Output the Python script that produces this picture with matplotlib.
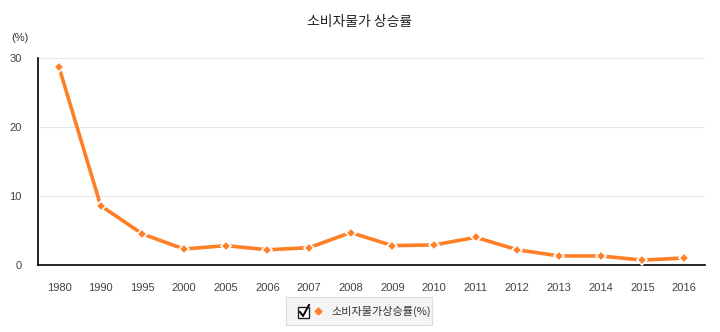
import matplotlib.pyplot as plt
from matplotlib.patches import Rectangle
from matplotlib.lines import Line2D

plt.rcParams['font.family'] = ['Noto Sans CJK KR', 'DejaVu Sans']

# 연도별 소비자물가 상승률 (%)
years = ['1980', '1990', '1995', '2000', '2005', '2006', '2007', '2008',
         '2009', '2010', '2011', '2012', '2013', '2014', '2015', '2016']
cpi = [28.7, 8.6, 4.5, 2.3, 2.8, 2.2, 2.5, 4.7,
       2.8, 2.9, 4.0, 2.2, 1.3, 1.3, 0.7, 1.0]
y_ticks = [0, 10, 20, 30]

ORANGE = '#ff7f27'

fig = plt.figure(figsize=(7.2, 3.32), dpi=100)
ax = fig.add_axes([0.053, 0.202, 0.926, 0.623])

x = list(range(len(years)))
ax.plot(x, cpi, color=ORANGE, linewidth=2.6, marker='D', markersize=5.5,
        markerfacecolor=ORANGE, markeredgecolor='white', markeredgewidth=1.2,
        solid_joinstyle='round', zorder=3)

ax.set_xlim(-0.5, len(years) - 0.5)
ax.set_ylim(0, 30)
ax.set_xticks(x)
ax.set_xticklabels(years)
ax.set_yticks(y_ticks)
ax.tick_params(axis='both', length=0, labelsize=8, colors='#444444')
ax.tick_params(axis='x', pad=13)
ax.tick_params(axis='y', pad=12)
for lbl in ax.get_xticklabels() + ax.get_yticklabels():
    lbl.set_family(['Liberation Sans', 'DejaVu Sans'])
ax.yaxis.grid(True, color='#e8e8e8', linewidth=0.8)
ax.set_axisbelow(True)
for side in ('top', 'right'):
    ax.spines[side].set_visible(False)
ax.spines['left'].set_color('black')
ax.spines['bottom'].set_color('black')
ax.spines['left'].set_linewidth(1.2)
ax.spines['bottom'].set_linewidth(1.2)

fig.text(0.5, 0.935, '소비자물가 상승률', ha='center', va='center',
         fontsize=10, color='#222222')
fig.text(0.028, 0.885, '(%)', ha='center', va='center', fontsize=8,
         color='#333333', family=['Liberation Sans', 'DejaVu Sans'])

# 하단 범례 상자
fw, fh = 720, 332
fig.patches.append(Rectangle((286 / fw, 1 - 325 / fh), 146 / fw, 28 / fh,
                             transform=fig.transFigure, facecolor='#f4f4f4',
                             edgecolor='#dddddd', linewidth=0.8))
fig.patches.append(Rectangle((298 / fw, 1 - 318 / fh), 11 / fw, 11 / fh,
                             transform=fig.transFigure, facecolor='white',
                             edgecolor='#222222', linewidth=1.0))
fig.lines.append(Line2D([300 / fw, 303 / fw, 309 / fw],
                        [1 - 312 / fh, 1 - 316 / fh, 1 - 305 / fh],
                        transform=fig.transFigure, color='black', linewidth=1.4))
fig.lines.append(Line2D([318 / fw], [1 - 311 / fh], transform=fig.transFigure,
                        marker='D', markersize=3.5, color=ORANGE, linestyle='none'))
fig.text(331 / fw, 1 - 311 / fh, '소비자물가상승률(%)', ha='left', va='center',
         fontsize=8, color='#333333')

fig.savefig('out.png', dpi=100)
